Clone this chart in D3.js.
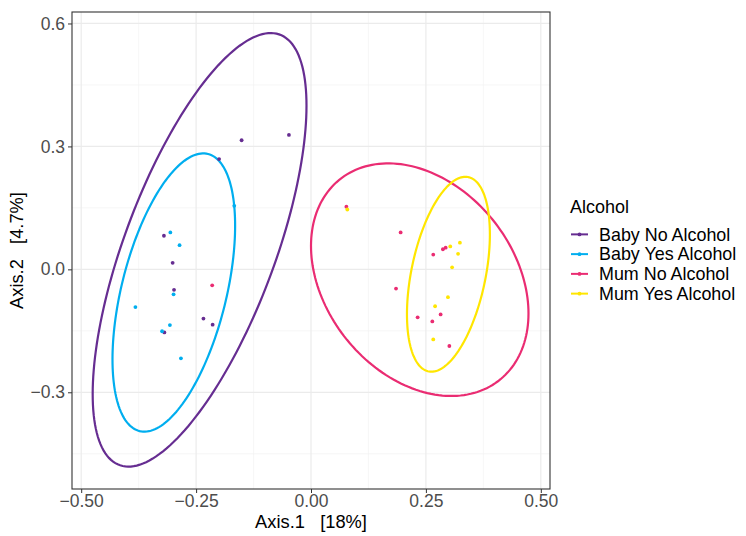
<!DOCTYPE html>
<html lang="en">
  <head>
    <meta charset="UTF-8" />
    <title>PCoA Alcohol</title>
    <style>
      body { margin: 0; background: #fff; }
      text { font-family: "Liberation Sans", Arial, sans-serif; }
      .tick text { fill: #4d4d4d; font-size: 17.5px; }
      .tick line { stroke: #333; }
      .domain { display: none; }
      .grid-major { stroke: #ebebeb; stroke-width: 1.2px; }
      .grid-minor { stroke: #f2f2f2; stroke-width: 0.7px; }
      .ellipse { fill: none; stroke-width: 2.2px; }
    </style>
  </head>
  <body>
    <script src="https://cdn.jsdelivr.net/npm/d3@7"></script>
    <script>

      // groups and their points [Axis.1, Axis.2]
      var groups = ["Baby No Alcohol", "Baby Yes Alcohol", "Mum No Alcohol", "Mum Yes Alcohol"];

      var babyNo = [[-0.151, 0.315], [-0.048, 0.328], [-0.200, 0.269], [-0.320, 0.082],
                    [-0.301, 0.016], [-0.298, -0.050], [-0.234, -0.120], [-0.214, -0.135],
                    [-0.319, -0.154]];
      var babyYes = [[-0.167, 0.155], [-0.306, 0.090], [-0.286, 0.059], [-0.299, -0.061],
                     [-0.382, -0.092], [-0.307, -0.136], [-0.324, -0.151], [-0.283, -0.217]];
      var mumNo = [[-0.215, -0.039], [0.077, 0.153], [0.195, 0.090], [0.266, 0.036],
                   [0.287, 0.049], [0.293, 0.053], [0.185, -0.047], [0.232, -0.117],
                   [0.264, -0.127], [0.282, -0.110], [0.301, -0.187]];
      var mumYes = [[0.079, 0.146], [0.303, 0.056], [0.324, 0.065], [0.320, 0.038],
                    [0.307, 0.005], [0.298, -0.068], [0.270, -0.090], [0.266, -0.171]];

      // ellipse shape per group: centre, half extents and correlation
      var ellCx = [-0.2424, -0.2985, 0.2366, 0.299];
      var ellCy = [0.0476, -0.0566, -0.0252, -0.012];
      var ellSx = [0.2326, 0.1334, 0.2366, 0.0902];
      var ellSy = [0.529, 0.3395, 0.2838, 0.2378];
      var ellR  = [0.665, 0.48, -0.29, 0.41];

      var xTicks = [-0.5, -0.25, 0, 0.25, 0.5];
      var yTicks = [-0.3, 0, 0.3, 0.6];
      var xMinor = [-0.375, -0.125, 0.125, 0.375];
      var yMinor = [-0.45, -0.15, 0.15, 0.45];

      var colors = ["#662d91", "#00aeef", "#ea2c72", "#ffe600"];
      var points = [babyNo, babyYes, mumNo, mumYes];

      var w = 746, h = 536;
      var panel = { left: 72, right: 550, top: 12, bottom: 489 };

      var svg = d3.select("body").append("svg")
        .attr("width", w)
        .attr("height", h);

      var xScale = d3.scaleLinear()
        .domain([-0.52, 0.52])
        .range([panel.left, panel.right]);

      var yScale = d3.scaleLinear()
        .domain([-0.536, 0.628])
        .range([panel.bottom, panel.top]);

      // grid
      svg.selectAll(".gx-minor").data(xMinor).enter().append("line")
        .attr("class", "grid-minor")
        .attr("x1", function(d) { return xScale(d); }).attr("x2", function(d) { return xScale(d); })
        .attr("y1", panel.top).attr("y2", panel.bottom);
      svg.selectAll(".gy-minor").data(yMinor).enter().append("line")
        .attr("class", "grid-minor")
        .attr("y1", function(d) { return yScale(d); }).attr("y2", function(d) { return yScale(d); })
        .attr("x1", panel.left).attr("x2", panel.right);
      svg.selectAll(".gx-major").data(xTicks).enter().append("line")
        .attr("class", "grid-major")
        .attr("x1", function(d) { return xScale(d); }).attr("x2", function(d) { return xScale(d); })
        .attr("y1", panel.top).attr("y2", panel.bottom);
      svg.selectAll(".gy-major").data(yTicks).enter().append("line")
        .attr("class", "grid-major")
        .attr("y1", function(d) { return yScale(d); }).attr("y2", function(d) { return yScale(d); })
        .attr("x1", panel.left).attr("x2", panel.right);

      // ellipses
      var line = d3.line()
        .x(function(d) { return xScale(d[0]); })
        .y(function(d) { return yScale(d[1]); });

      groups.forEach(function(g, i) {
        var phi = Math.acos(ellR[i]);
        var pts = d3.range(0, 361, 2).map(function(a) {
          var t = a * Math.PI / 180;
          return [ellCx[i] + ellSx[i] * Math.cos(t), ellCy[i] + ellSy[i] * Math.cos(t - phi)];
        });
        svg.append("path")
          .datum(pts)
          .attr("class", "ellipse")
          .attr("stroke", colors[i])
          .attr("d", line);
      });

      // points
      groups.forEach(function(g, i) {
        svg.append("g").selectAll("circle")
          .data(points[i])
          .enter()
          .append("circle")
          .attr("cx", function(d) { return xScale(d[0]); })
          .attr("cy", function(d) { return yScale(d[1]); })
          .attr("r", 1.9)
          .attr("fill", colors[i]);
      });

      // panel border
      svg.append("rect")
        .attr("x", panel.left).attr("y", panel.top)
        .attr("width", panel.right - panel.left).attr("height", panel.bottom - panel.top)
        .attr("fill", "none").attr("stroke", "#333").attr("stroke-width", 1.1);

      var minus = function(s) { return s.replace("-", "\u2212"); };

      var xAxis = d3.axisBottom(xScale)
        .tickValues(xTicks)
        .tickSize(4)
        .tickPadding(2)
        .tickFormat(function(d) { return minus(d3.format(".2f")(d)); });

      var yAxis = d3.axisLeft(yScale)
        .tickValues(yTicks)
        .tickSize(4)
        .tickPadding(3)
        .tickFormat(function(d) { return minus(d3.format(".1f")(d)); });

      svg.append("g")
        .attr("transform", "translate(0," + panel.bottom + ")")
        .call(xAxis)
        .selectAll("text").attr("font-family", null);

      svg.append("g")
        .attr("transform", "translate(" + panel.left + ",0)")
        .call(yAxis)
        .selectAll("text").attr("font-family", null);

      svg.selectAll(".tick text").attr("font-size", null);

      // axis titles
      svg.append("text")
        .attr("x", (panel.left + panel.right) / 2)
        .attr("y", 528)
        .attr("text-anchor", "middle")
        .attr("font-size", "18.3px")
        .attr("fill", "#000")
        .style("white-space", "pre")
        .text("Axis.1   [18%]");

      svg.append("text")
        .attr("transform", "translate(23," + ((panel.top + panel.bottom) / 2) + ") rotate(-90)")
        .attr("text-anchor", "middle")
        .attr("font-size", "18.3px")
        .attr("fill", "#000")
        .style("white-space", "pre")
        .text("Axis.2   [4.7%]");

      // legend
      var legend = svg.append("g").attr("transform", "translate(570,0)");

      legend.append("text")
        .attr("x", 0)
        .attr("y", 213)
        .attr("font-size", "18px")
        .attr("fill", "#000")
        .text("Alcohol");

      var legendY = d3.scaleBand().domain(groups).range([224.5, 303.5]);

      groups.forEach(function(g, i) {
        var cy = legendY(g) + legendY.bandwidth() / 2;
        legend.append("line")
          .attr("x1", 1).attr("x2", 18)
          .attr("y1", cy).attr("y2", cy)
          .attr("stroke", colors[i]).attr("stroke-width", 2);
        legend.append("circle")
          .attr("cx", 9.5).attr("cy", cy).attr("r", 1.9)
          .attr("fill", colors[i]);
        legend.append("text")
          .attr("x", 29)
          .attr("y", cy + 6.3)
          .attr("font-size", "17.9px")
          .attr("fill", "#000")
          .text(g);
      });

    </script>
  </body>
</html>
